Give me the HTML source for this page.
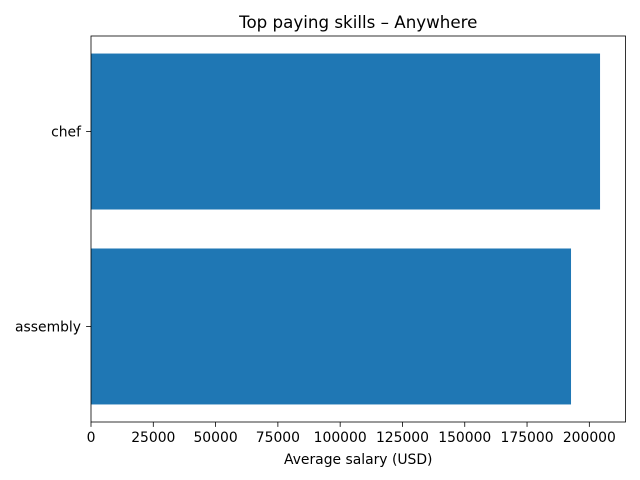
<!DOCTYPE html>
<html><head><meta charset="utf-8"><style>body{margin:0;background:#fff}svg{display:block;font-family:"DejaVu Sans","Liberation Sans",sans-serif}</style></head>
<body>
<svg id="chart" width="640" height="480" xmlns="http://www.w3.org/2000/svg"></svg>
<script>
const categories = ["assembly", "chef"];
const salaries = [192650, 204300];
const xTicks = [0, 25000, 50000, 75000, 100000, 125000, 150000, 175000, 200000];
const NS = "http://www.w3.org/2000/svg";
const svg = document.getElementById('chart');
const L = 91, R = 625.5, T = 36, B = 422;
const xMax = Math.max(...salaries) * 1.05;
const x = v => L + v / xMax * (R - L);
const yMin = -0.49, yMax = 1.49;
const y = v => B - (v - yMin) / (yMax - yMin) * (B - T);
function mk(tag, attrs, text) {
  const e = document.createElementNS(NS, tag);
  for (const k in attrs) e.setAttribute(k, attrs[k]);
  if (text !== undefined) e.textContent = text;
  svg.appendChild(e);
  return e;
}
categories.forEach((c, i) => {
  const r = mk('rect', {x: L, y: y(i + 0.4), width: x(salaries[i]) - L, height: y(i - 0.4) - y(i + 0.4), fill: '#1f77b4'});
  
  
  const t = mk('line', {x1: L - 4.9, x2: L, y1: y(i), y2: y(i), stroke: '#000', 'stroke-width': 0.8});
  
  
  const lb = mk('text', {x: L - 10, y: y(i) + 5, 'text-anchor': 'end', 'font-size': 13.9}, c);
  
  
});
xTicks.forEach(v => {
  const t = mk('line', {x1: x(v), x2: x(v), y1: B, y2: B + 4.9, stroke: '#000', 'stroke-width': 0.8});
  
  
  const lb = mk('text', {x: x(v), y: B + 20, 'text-anchor': 'middle', 'font-size': 13.9}, String(v));
  
  
});
const frame = mk('rect', {x: L, y: T, width: R - L, height: B - T, fill: 'none', stroke: '#000', 'stroke-width': 0.8});


const xt = mk('text', {x: (L + R) / 2, y: 464, 'text-anchor': 'middle', 'font-size': 13.9}, 'Average salary (USD)');


const ti = mk('text', {x: (L + R) / 2, y: 28, 'text-anchor': 'middle', 'font-size': 16.7}, 'Top paying skills – Anywhere');


</script>
</body></html>
